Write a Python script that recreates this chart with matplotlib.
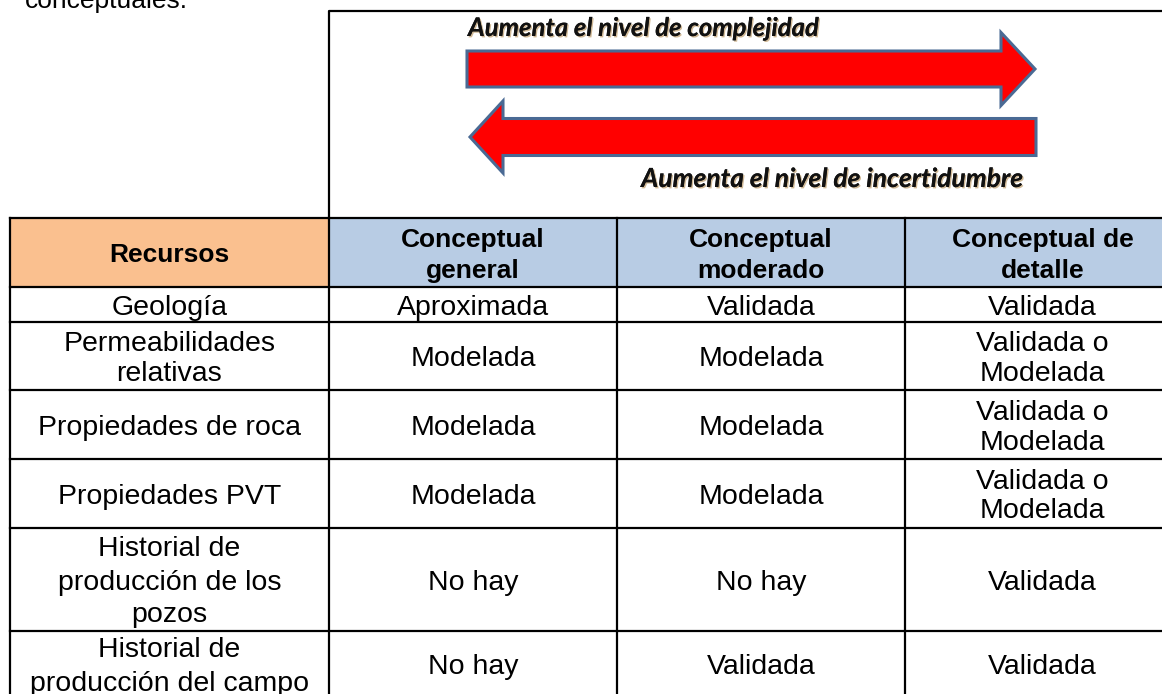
import matplotlib.pyplot as plt
from matplotlib.patches import Rectangle, FancyArrow
import matplotlib.patheffects as pe

# Contenido de la tabla
encabezados = ["Recursos", "Conceptual\ngeneral", "Conceptual\nmoderado", "Conceptual de\ndetalle"]
recursos = ["Geología", "Permeabilidades\nrelativas", "Propiedades de roca", "Propiedades PVT",
            "Historial de\nproducción de los\npozos", "Historial de\nproducción del campo"]
conceptual_general = ["Aproximada", "Modelada", "Modelada", "Modelada", "No hay", "No hay"]
conceptual_moderado = ["Validada", "Modelada", "Modelada", "Modelada", "No hay", "Validada"]
conceptual_detalle = ["Validada", "Validada o\nModelada", "Validada o\nModelada", "Validada o\nModelada",
                      "Validada", "Validada"]

flecha_arriba = "Aumenta el nivel de complejidad"
flecha_abajo = "Aumenta el nivel de incertidumbre"

# Geometría (píxeles)
W, H = 1162, 694
col_x = [10, 329, 617, 905, 1180]
fila_y = [218, 287, 322, 390, 459, 528, 631, 702]
lh = 30  # interlineado

fig = plt.figure(figsize=(W / 100, H / 100), dpi=100)
ax = fig.add_axes([0, 0, 1, 1])
ax.set_xlim(0, W)
ax.set_ylim(H, 0)
ax.axis("off")

fuente = "Liberation Sans"
lw = 1.6

# Texto cortado arriba (como en la imagen original)
ax.text(25, 8, "conceptuales.", fontsize=19, family=fuente, va="baseline", ha="left")

# Recuadro superior
ax.plot([col_x[1], col_x[1], W + 20], [fila_y[0], 11, 11], color="black", lw=lw, solid_capstyle="projecting")

# Flechas
rojo, borde = "#ff0000", "#4a6a94"
ax.add_patch(FancyArrow(467, 69, 1035 - 467, 0, width=36, head_width=73, head_length=34,
                        length_includes_head=True, facecolor=rojo, edgecolor=borde, lw=2.2))
ax.add_patch(FancyArrow(1036, 137, 470 - 1036, 0, width=37, head_width=72, head_length=33,
                        length_includes_head=True, facecolor=rojo, edgecolor=borde, lw=2.2))
sombra = [pe.withSimplePatchShadow(offset=(1, -1), shadow_rgbFace="#b08a50", alpha=0.6), pe.Normal()]
ax.text(468, 36, flecha_arriba, fontsize=18.5, family="Lato", weight="bold", style="italic",
        va="baseline", ha="left", color="#111111", path_effects=sombra)
ax.text(1023, 187, flecha_abajo, fontsize=19, family="Lato", weight="bold", style="italic",
        va="baseline", ha="right", color="#111111", path_effects=sombra)

# Encabezado
colores = ["#fac08f", "#b8cce4", "#b8cce4", "#b8cce4"]
for j, enc in enumerate(encabezados):
    ax.add_patch(Rectangle((col_x[j], fila_y[0]), col_x[j + 1] - col_x[j], fila_y[1] - fila_y[0],
                           facecolor=colores[j], edgecolor="none"))
    cx = (col_x[j] + col_x[j + 1]) / 2
    lineas = enc.split("\n")
    cy = (fila_y[0] + fila_y[1]) / 2
    y0 = cy - (len(lineas) - 1) * 31 / 2
    for k, t in enumerate(lineas):
        ax.text(cx, y0 + k * 31, t, fontsize=19, family=fuente, weight="bold",
                ha="center", va="center_baseline")

# Cuerpo
columnas = [recursos, conceptual_general, conceptual_moderado, conceptual_detalle]
for j, col in enumerate(columnas):
    cx = (col_x[j] + col_x[j + 1]) / 2
    for i, celda in enumerate(col):
        lineas = celda.split("\n")
        cy = (fila_y[i + 1] + fila_y[i + 2]) / 2
        paso = lh
        if i == len(col) - 1:
            cy = 664
            paso = 34
        elif len(lineas) == 3:
            paso = 33
        y0 = cy - (len(lineas) - 1) * paso / 2
        for k, t in enumerate(lineas):
            ax.text(cx, y0 + k * paso, t, fontsize=20.5, family=fuente,
                    ha="center", va="center_baseline")

# Líneas de la tabla
for y in fila_y[:-1]:
    ax.plot([col_x[0], W + 20], [y, y], color="black", lw=lw, solid_capstyle="projecting")
for x in col_x[:-1]:
    ax.plot([x, x], [fila_y[0], H + 10], color="black", lw=lw, solid_capstyle="projecting")

fig.savefig("out.png", dpi=100)
